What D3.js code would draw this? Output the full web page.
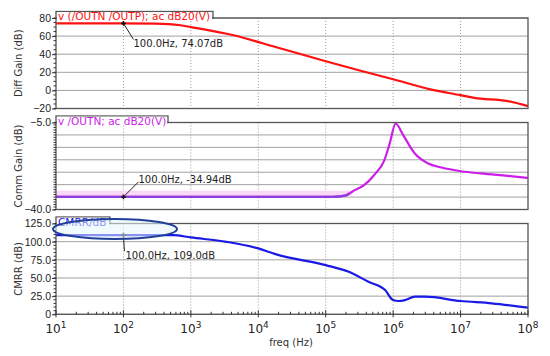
<!DOCTYPE html>
<html>
<head>
<meta charset="utf-8">
<script src="https://cdn.jsdelivr.net/npm/d3@7"></script>
<style>
  body { margin: 0; background: #fff; }
  svg { font-family: "DejaVu Sans", sans-serif; }
</style>
</head>
<body>
<div id="chart"></div>
<script>
//////////////////////////////////////////////////////////////
/////////////////////// Data ////////////////////////////////
//////////////////////////////////////////////////////////////

var diffFreq = [10, 100, 300, 700, 1e3, 4.3e3, 1.8e4, 1e5, 3.1e5, 1e6, 3.7e6, 1e7, 1.6e7, 5e7, 1e8],
    diffGain = [74.07, 74.07, 73.8, 72, 70, 60.9, 48, 32.2, 22.3, 12.3, 0.9, -5.3, -8.3, -11.9, -17.4];

var commFreq = [10, 1e5, 1.3e5, 1.95e5, 2.7e5, 3.7e5, 5.2e5, 7.4e5, 8.9e5, 1.09e6, 1.41e6, 2.1e6, 3.3e6, 5.2e6, 1.02e7, 2e7, 5e7, 1e8],
    commGain = [-34.94, -34.94, -34.9, -34.4, -32.2, -30.2, -26.2, -20.2, -13.4, -5.4, -10.1, -17.5, -21.5, -23.1, -24.6, -25.5, -26.5, -27.3];

var cmrrFreq = [10, 100, 550, 1e3, 3.4e3, 1e4, 1.8e4, 1e5, 2.2e5, 4.3e5, 7.6e5, 1e6, 1.2e6, 1.5e6, 2.1e6, 3e6, 1e7, 2.9e7, 1e8],
    cmrrVal  = [109, 109, 109, 105.8, 99.7, 90.7, 82.8, 67.7, 58.5, 44.8, 33.4, 19.6, 18.3, 19.6, 24.2, 24.2, 18.3, 15.1, 9.1];

var freqTicks = [10, 100, 1e3, 1e4, 1e5, 1e6, 1e7, 1e8];

var diffTicks = [80, 60, 40, 20, 0, -20],
    commTicks = [-5, -40],
    commGrid  = [-5, -10, -15, -20, -25, -30, -35, -40],
    cmrrTicks = [125, 100, 75, 50, 25, 0];

//////////////////////////////////////////////////////////////
/////////////////////// Setup ///////////////////////////////
//////////////////////////////////////////////////////////////

var width = 550, height = 356;

var svg = d3.select("#chart").append("svg")
    .attr("width", width)
    .attr("height", height);

var x = d3.scaleLog().domain([10, 1e8]).range([56, 528]);

//One entry per panel
var panels = [
  { top: 18, bottom: 108.5, dom: [-20, 80], ticks: diffTicks, grid: diffTicks, fmt: d3.format("d"), minor: 4,
    title: "v (/OUTN /OUTP); ac dB20(V)", tabRight: 213, color: "#ff1010", ylabel: "Diff Gain (dB)",
    fx: diffFreq, fy: diffGain, mark: 74.07, note: "100.0Hz, 74.07dB", noteDx: 10, noteDy: 16 },
  { top: 122.5, bottom: 209.5, dom: [-40, -5], ticks: commTicks, grid: commGrid, fmt: d3.format(".1f"), minor: 5,
    title: "v /OUTN; ac dB20(V)", tabRight: 168, color: "#cc1ee8", ylabel: "Comm Gain (dB)",
    fx: commFreq, fy: commGain, mark: -34.94, note: "100.0Hz, -34.94dB", noteDx: 15, noteDy: -15 },
  { top: 223.5, bottom: 314.3, dom: [0, 125], ticks: cmrrTicks, grid: cmrrTicks, fmt: function(d) { return d === 0 ? "0" : d3.format(".1f")(d); }, minor: 5,
    title: "CMRR/dB", tabRight: 110, color: "#1a1ae6", ylabel: "CMRR (dB)",
    fx: cmrrFreq, fy: cmrrVal, mark: 109.0, note: "100.0Hz, 109.0dB", noteDx: 1, noteDy: 16 }
];

panels.forEach(function(p, pi) {
  var y = d3.scaleLinear().domain(p.dom).range([p.bottom, p.top]);
  var g = svg.append("g");

  //Horizontal grid
  g.selectAll(".hgrid").data(p.grid).enter().append("line")
    .attr("x1", x.range()[0]).attr("x2", x.range()[1])
    .attr("y1", function(d) { return y(d); }).attr("y2", function(d) { return y(d); })
    .attr("stroke", "#a0a0a0").attr("stroke-width", 1);

  //Vertical dotted grid at each decade
  g.selectAll(".vgrid").data(freqTicks.slice(1, -1)).enter().append("line")
    .attr("x1", function(d) { return x(d); }).attr("x2", function(d) { return x(d); })
    .attr("y1", p.top).attr("y2", p.bottom)
    .attr("stroke", "#9a9a9a").attr("stroke-width", 1).attr("stroke-dasharray", "1,2");

  //Pale selection band behind the common gain trace
  if (pi === 1) {
    g.append("rect")
      .attr("x", x(10)).attr("width", x(2.3e5) - x(10))
      .attr("y", y(-32.4)).attr("height", y(-34.9) - y(-32.4))
      .attr("fill", "#fbd8f7");
  }

  //Curve
  var line = d3.line()
    .x(function(d) { return x(d[0]); })
    .y(function(d) { return y(d[1]); })
    .curve(d3.curveMonotoneX);
  var pts = d3.zip(p.fx, p.fy);

  g.append("path").datum(pts)
    .attr("d", line)
    .attr("fill", "none")
    .attr("stroke", p.color)
    .attr("stroke-width", 2.2);

  if (pi === 1) {
    //flat part looks more purple
    svg.append("clipPath").attr("id", "flatClip").append("rect")
      .attr("x", 0).attr("y", 0).attr("width", x(2.2e5)).attr("height", height);
    g.append("path").datum(pts)
      .attr("d", line)
      .attr("fill", "none")
      .attr("clip-path", "url(#flatClip)")
      .attr("stroke", "#8a3ee0")
      .attr("stroke-width", 2.2);
  }

  //Frame
  g.append("rect")
    .attr("x", x.range()[0]).attr("y", p.top)
    .attr("width", x.range()[1] - x.range()[0]).attr("height", p.bottom - p.top)
    .attr("fill", "none").attr("stroke", "#555").attr("stroke-width", 1.3);

  //Header tab, with a white patch hiding the frame line under the text
  g.append("rect")
    .attr("x", x.range()[0]).attr("y", p.top - 6.5)
    .attr("width", p.tabRight - x.range()[0]).attr("height", 6.5)
    .attr("fill", "#fff").attr("stroke", "#555").attr("stroke-width", 1.3);
  g.append("rect")
    .attr("x", x.range()[0] + 1).attr("y", p.top - 5.8)
    .attr("width", p.tabRight - x.range()[0] - 2).attr("height", 8.5)
    .attr("fill", "#fff");
  g.append("text")
    .attr("x", x.range()[0] + 2).attr("y", p.top + 2)
    .attr("fill", p.color)
    .style("font-size", "10.5px")
    .text(p.title);

  //Left axis
  var yAxis = d3.axisLeft(y).tickValues(p.ticks).tickFormat(p.fmt).tickSize(4).tickPadding(1);
  var ax = g.append("g").attr("transform", "translate(" + x.range()[0] + ",0)").call(yAxis);
  ax.select(".domain").remove();
  ax.selectAll("line").attr("stroke", "#333");
  ax.selectAll("text").style("font-size", "10.5px").attr("fill", "#222");

  //Minor y ticks
  var step = (p.dom[1] - p.dom[0]) / ((p.ticks.length > 2 ? p.ticks.length - 1 : 7) * p.minor);
  var minors = d3.range(p.dom[0], p.dom[1] + step / 2, step);
  g.selectAll(".ymin").data(minors).enter().append("line")
    .attr("x1", x.range()[0] - 2.5).attr("x2", x.range()[0])
    .attr("y1", function(d) { return y(d); }).attr("y2", function(d) { return y(d); })
    .attr("stroke", "#333");

  //Y axis title
  svg.append("text")
    .attr("transform", "translate(22," + ((p.top + p.bottom) / 2) + ") rotate(-90)")
    .attr("text-anchor", "middle")
    .attr("fill", "#333")
    .style("font-size", "10px")
    .text(p.ylabel);

  //Marker + annotation
  var mx = x(100), my = y(p.mark);
  g.append("line")
    .attr("x1", mx).attr("y1", my).attr("x2", mx + p.noteDx).attr("y2", my + p.noteDy)
    .attr("stroke", "#222").attr("stroke-width", 1);
  g.append("path")
    .attr("d", d3.symbol().type(d3.symbolCross).size(12)())
    .attr("transform", "translate(" + mx + "," + my + ")")
    .attr("fill", "#111");
  g.append("text")
    .attr("x", mx + p.noteDx + (pi === 2 ? 1 : 0))
    .attr("y", my + p.noteDy + (p.noteDy > 0 ? 8 : 1))
    .attr("fill", "#222")
    .style("font-size", "10px")
    .text(p.note);

  //Bottom panel gets the frequency axis
  if (pi === 2) {
    var minorF = [];
    freqTicks.slice(0, -1).forEach(function(d) {
      d3.range(2, 10).forEach(function(k) { minorF.push(d * k); });
    });
    g.selectAll(".xmin").data(minorF).enter().append("line")
      .attr("x1", function(d) { return x(d); }).attr("x2", function(d) { return x(d); })
      .attr("y1", p.bottom).attr("y2", p.bottom - 2.5)
      .attr("stroke", "#333");
    g.selectAll(".xmaj").data(freqTicks).enter().append("line")
      .attr("x1", function(d) { return x(d); }).attr("x2", function(d) { return x(d); })
      .attr("y1", p.bottom + 3).attr("y2", p.bottom - 4)
      .attr("stroke", "#333");

    var lab = g.selectAll(".xlab").data(freqTicks).enter().append("text")
      .attr("x", function(d) { return x(d); })
      .attr("y", p.bottom + 19)
      .attr("text-anchor", "middle")
      .attr("fill", "#222")
      .style("font-size", "12px");
    lab.append("tspan").text("10");
    lab.append("tspan").attr("dy", -5).style("font-size", "9px")
      .text(function(d) { return Math.round(Math.log10(d)); });

    svg.append("text")
      .attr("x", 291).attr("y", p.bottom + 32)
      .attr("text-anchor", "middle")
      .attr("fill", "#333")
      .style("font-size", "10px")
      .text("freq (Hz)");

    //Ellipse drawn round the CMRR label
    svg.append("ellipse")
      .attr("cx", 115).attr("cy", 229)
      .attr("rx", 62).attr("ry", 10)
      .attr("fill", "#e6f6fb").attr("fill-opacity", 0.55)
      .attr("stroke", "#1f3f99").attr("stroke-width", 2);
  }
});
</script>
</body>
</html>
